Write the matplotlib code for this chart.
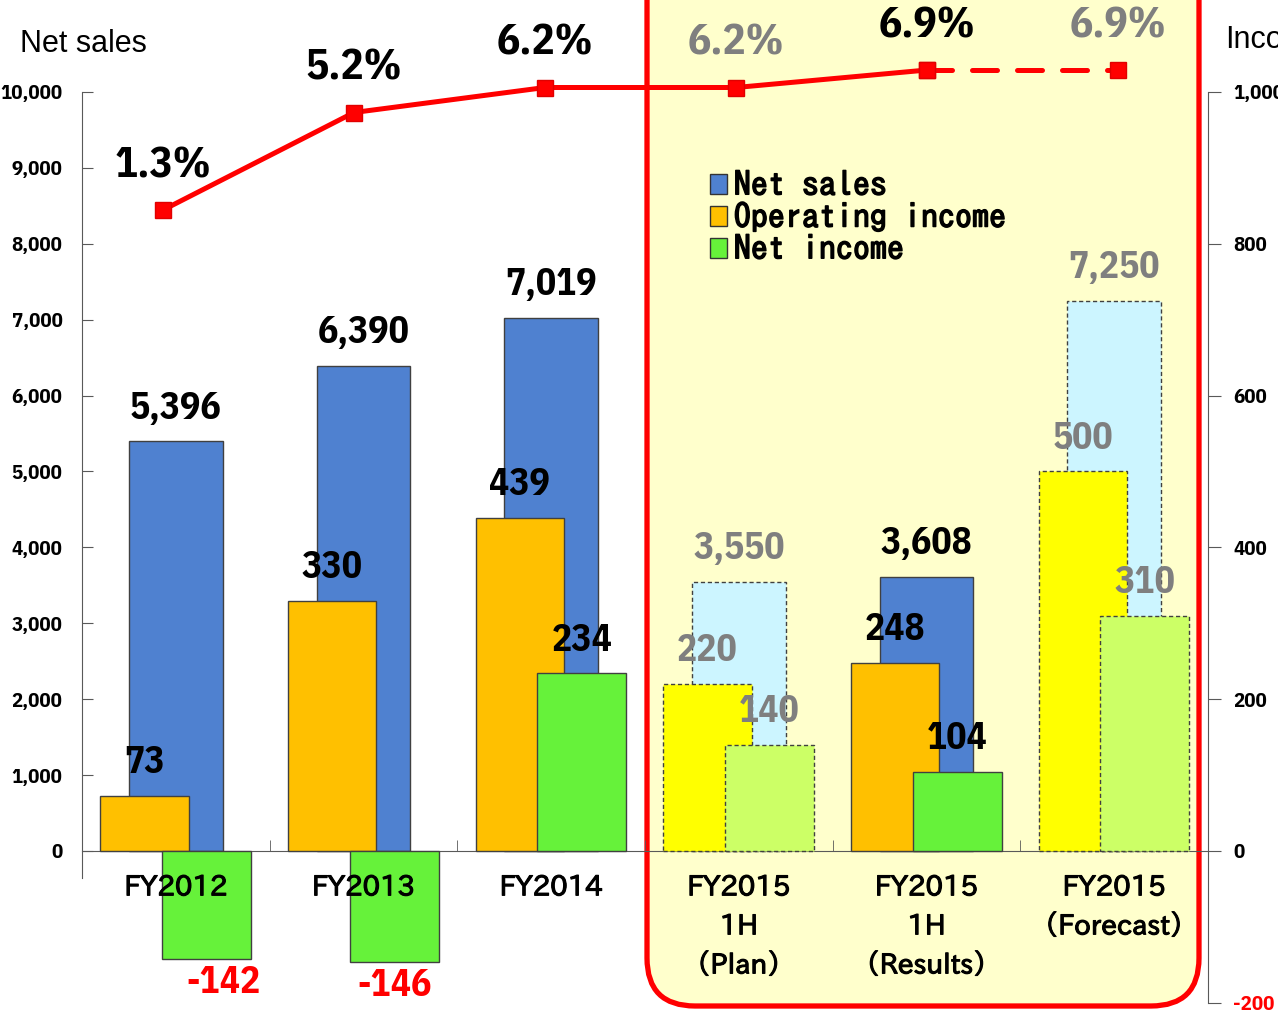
import matplotlib
matplotlib.use("Agg")
import matplotlib.pyplot as plt
import matplotlib.patheffects as pe
import numpy as np
from matplotlib import font_manager
from matplotlib.font_manager import FontProperties
from matplotlib.patches import FancyBboxPatch, Polygon, Patch
from matplotlib.colors import LinearSegmentedColormap

# results by fiscal year (net sales left axis, incomes right axis, margin in %)
categories = ["FY2012", "FY2013", "FY2014",
              "FY2015\n1H\n（Plan）", "FY2015\n1H\n（Results）", "FY2015\n（Forecast）"]
net_sales = [5396, 6390, 7019, 3550, 3608, 7250]
operating_income = [73, 330, 439, 220, 248, 500]
net_income = [-142, -146, 234, 140, 104, 310]
margin_pct = [1.3, 5.2, 6.2, 6.2, 6.9, 6.9]
is_projection = [False, False, False, True, False, True]

W, H = 1278, 1010
fig = plt.figure(figsize=(W / 100, H / 100), dpi=100)


def font_file(filename, fallback):
    for f in font_manager.fontManager.ttflist:
        if f.fname.endswith(filename):
            return f.fname
    return font_manager.findfont(fallback)


installed = {f.name for f in font_manager.fontManager.ttflist}
NARROW = "IBM Plex Sans Condensed" if "IBM Plex Sans Condensed" in installed else "DejaVu Sans"
GOTHIC = ["IPAPGothic", "Noto Sans CJK JP", "DejaVu Sans"]
mono_fp = FontProperties(fname=font_file("ipag.ttf", "DejaVu Sans Mono"), size=24.5)
bolden = [pe.withStroke(linewidth=1.1, foreground="black")]

RED = "#FF0000"
GREY = "#7F7F7F"
sales_col = ["#CCF5FF" if p else "#4F81D0" for p in is_projection]
op_col = ["#FFFF00" if p else "#FFC000" for p in is_projection]
ni_col = ["#CCFF66" if p else "#66F23A" for p in is_projection]
label_col = [GREY if p else "black" for p in is_projection]

# background layer in pixel units: highlighted FY2015 block and arrow
bg = fig.add_axes([0, 0, 1, 1], zorder=-1)
bg.add_patch(FancyBboxPatch((647, -80), 1199 - 647, 1006 + 80,
                            boxstyle="round,pad=0,rounding_size=48",
                            fc="#FFFFCC", ec=RED, lw=3.8))
arrow_pts = [(790, 473), (920, 445), (918, 434), (960, 456),
             (932, 494), (927, 484), (798, 512)]
arrow = Polygon(arrow_pts, closed=True, fc="none", ec="none")
bg.add_patch(arrow)
cmap = LinearSegmentedColormap.from_list("arr", [(0, "#FFA8A8"), (0.8, RED), (1, RED)])
im = bg.imshow(np.linspace(0, 1, 256).reshape(1, -1), cmap=cmap, aspect="auto",
               extent=(790, 960, 512, 433))
im.set_clip_path(arrow)
bg.set_xlim(0, W)
bg.set_ylim(H, 0)
bg.axis("off")

pos = [82 / W, 0, (1208 - 82) / W, 1]
ax = fig.add_axes(pos)
ax.set_facecolor("none")
ax.set_xlim(-0.5, 5.5)
ax.set_ylim(-2095, 11212)
ax2 = ax.twinx()
ax2.set_ylim(-209.5, 1121.2)
# margin line has its own, slightly wider point spacing
ax3 = fig.add_axes(pos, label="margin")
ax3.set_zorder(ax2.get_zorder() + 1)
ax3.set_xlim(-0.424, 5.471)
ax3.set_ylim(-30.7, 9.7)
ax3.axis("off")

x = np.arange(len(categories))

bars = ax.bar(x, net_sales, width=0.5, color=sales_col, edgecolor="#404040", lw=1)
op_bars = ax2.bar(x - 0.167, operating_income, width=0.47, color=op_col,
                  edgecolor="#404040", lw=1)
ni_bars = ax2.bar(x + 0.163, net_income, width=0.475, color=ni_col,
                  edgecolor="#404040", lw=1)
for group in (bars, op_bars, ni_bars):
    for b, p in zip(group, is_projection):
        if p:
            b.set_linestyle((0, (3, 2)))

lbl = dict(ha="center", va="center", fontsize=27, fontweight="bold", family=NARROW,
           textcoords="offset points")
for xi, v, c in zip(x, net_sales, label_col):
    ax.annotate(f"{v:,}", (xi, v), xytext=(0, 24), color=c, **lbl)
for xi, v, c in zip(x, operating_income, label_col):
    ax2.annotate(f"{v:,}", (xi - 0.167, v), xytext=(0, 24), color=c, **lbl)
for i, (xi, v, c) in enumerate(zip(x, net_income, label_col)):
    if v < 0:
        dx = 12 if i == 0 else 0
        ax2.annotate(f"{v:,}", (xi + 0.163, v), xytext=(dx, -17), color=RED, **lbl)
    else:
        ax2.annotate(f"{v:,}", (xi + 0.163, v), xytext=(0, 24), color=c, **lbl)

# operating margin line, dashed toward the forecast
ax3.plot(x[:5], margin_pct[:5], color=RED, lw=3.6, marker="s", ms=11,
         mec="#E00000", zorder=5)
ax3.plot(x[4:], margin_pct[4:], color=RED, lw=3.6, ls=(0, (5, 4)),
         dash_capstyle="round", marker="s", ms=11, mec="#E00000", zorder=5)
for xi, p, c in zip(x, margin_pct, label_col):
    ax3.annotate(f"{p}%", (xi, p), xytext=(0, 32), color=c,
                 **{**lbl, "fontsize": 31})

# category names sit on the top layer so they show over the negative bars
for xi, cat in zip(x, categories):
    ax3.annotate(cat, (xi, 0), xycoords=ax.transData, xytext=(0, -17),
                 textcoords="offset points", ha="center", va="top",
                 multialignment="center", linespacing=1.62, family=GOTHIC,
                 fontsize=20, path_effects=[pe.withStroke(linewidth=0.8, foreground="black")])

# spines and ticks
for s in ("top", "right"):
    ax.spines[s].set_visible(False)
for s in ("top", "left", "bottom"):
    ax2.spines[s].set_visible(False)
ax.spines["bottom"].set_position(("data", 0))
ax.spines["left"].set_bounds(-356, 10000)
ax2.spines["right"].set_bounds(-200, 1000)
for sp in (ax.spines["left"], ax.spines["bottom"], ax2.spines["right"]):
    sp.set_color("#595959")

ax.set_yticks(range(0, 10001, 1000))
ax.set_yticklabels([f"{v:,}" for v in range(0, 10001, 1000)],
                   family=NARROW, fontweight="bold", fontsize=15)
ax.tick_params(axis="y", direction="in", length=8, pad=14, color="#595959")

rticks = list(range(-200, 1001, 200))
ax2.set_yticks(rticks)
ax2.set_yticklabels([f"{v:,}" for v in rticks], family=NARROW,
                    fontweight="bold", fontsize=15)
ax2.get_yticklabels()[0].set_color(RED)
ax2.tick_params(axis="y", direction="out", length=9, pad=9, color="#595959")

ax.set_xticks(x)
ax.set_xticklabels([])
ax.tick_params(axis="x", which="major", length=0)
ax.set_xticks(np.arange(-0.5, 6, 1), minor=True)
ax.tick_params(axis="x", which="minor", direction="in", length=8, color="#595959")

fig.text(20 / W, 1 - 44 / H, "Net sales", fontsize=22, family="Liberation Sans",
         va="center")
fig.text(1225 / W, 1 - 40 / H, "Income", fontsize=22, family="Liberation Sans",
         va="center")

handles = [Patch(fc=c, ec="#333333") for c in ("#4F81D0", "#FFC000", "#66F23A")]
leg = fig.legend(handles, ["Net sales", "Operating income", "Net income"],
                 loc="upper left", bbox_to_anchor=(710 / W, 1 - 170 / H),
                 frameon=False, handlelength=0.5, handleheight=0.5,
                 handletextpad=0.2, labelspacing=0.08, borderpad=0,
                 borderaxespad=0, prop=mono_fp)
for t in leg.get_texts():
    t.set_path_effects(bolden)

fig.savefig("out.png", dpi=100)
